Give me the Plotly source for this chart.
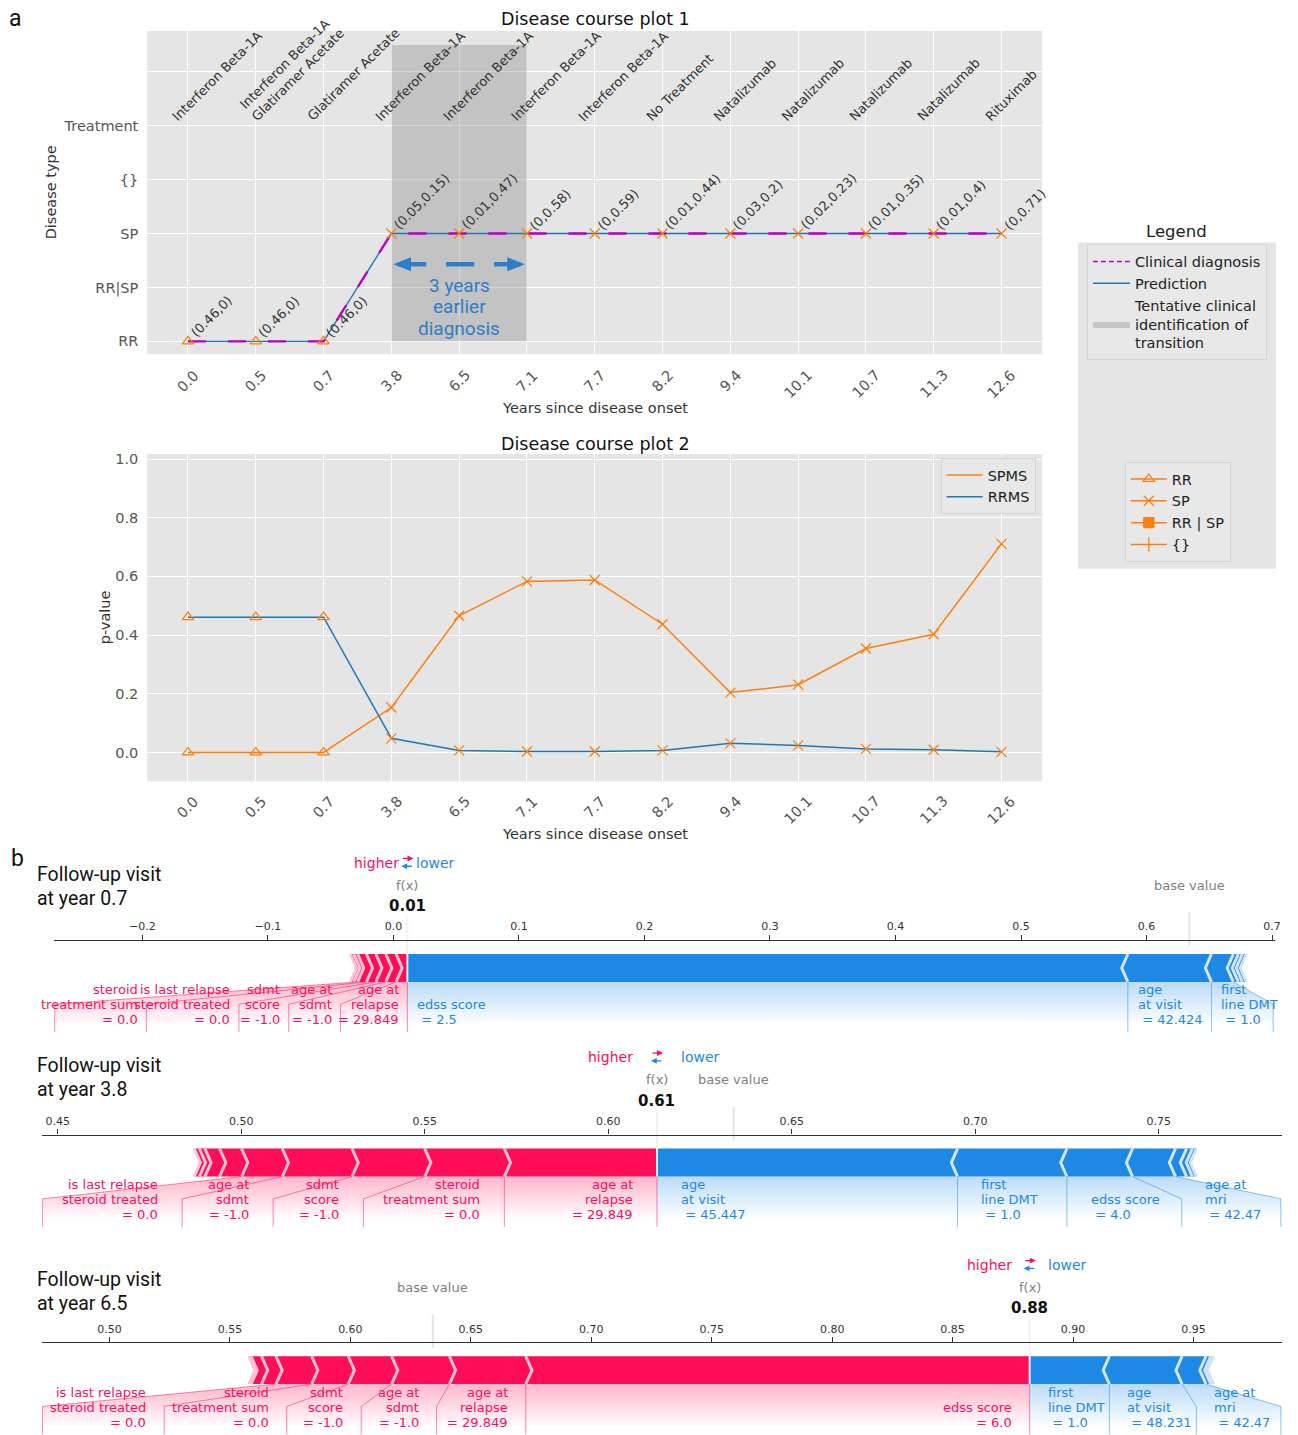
import plotly.graph_objects as go

FIG_W, FIG_H = 1298, 1435


def px_x(p):
    return p / FIG_W


def px_y(p):
    return 1 - p / FIG_H


# ---------------- disease course data ----------------
years = ["0.0", "0.5", "0.7", "3.8", "6.5", "7.1", "7.7", "8.2", "9.4", "10.1", "10.7", "11.3", "12.6"]
treatments = ["Interferon Beta-1A", "Interferon Beta-1A\nGlatiramer Acetate", "Glatiramer Acetate",
              "Interferon Beta-1A", "Interferon Beta-1A", "Interferon Beta-1A", "Interferon Beta-1A",
              "No Treatment", "Natalizumab", "Natalizumab", "Natalizumab", "Natalizumab", "Rituximab"]
predicted_type = ["RR", "RR", "RR", "SP", "SP", "SP", "SP", "SP", "SP", "SP", "SP", "SP", "SP"]
clinical_type = ["RR", "RR", "RR", "SP", "SP", "SP", "SP", "SP", "SP", "SP", "SP", "SP", "SP"]
p_rrms = [0.461, 0.461, 0.461, 0.048, 0.007, 0.003, 0.003, 0.007, 0.031, 0.024, 0.012, 0.009, 0.002]
p_spms = [0.0, 0.0, 0.0, 0.153, 0.466, 0.583, 0.588, 0.437, 0.204, 0.231, 0.354, 0.403, 0.711]
type_levels = ["RR", "RR|SP", "SP", "{}", "Treatment", ""]
legend_types = ["RR", "SP", "RR|SP", "{}"]
legend_type_names = ["RR", "SP", "RR | SP", "{}"]
transition_years = ["3.8", "7.1"]
earlier_text = ["3 years", "earlier", "diagnosis"]
p_ticks = [0.0, 0.2, 0.4, 0.6, 0.8, 1.0]

# ---------------- force plot data (SHAP contributions) ----------------
BASE_VALUE = 0.6342
visits = ["0.7", "3.8", "6.5"]

fp07_pos_names = ["age at\nrelapse", "age at\nsdmt", "sdmt\nscore", "is last relapse\nsteroid treated",
                  "steroid\ntreatment sum", "", ""]
fp07_pos_values = ["29.849", "-1.0", "-1.0", "0.0", "0.0", "", ""]
fp07_pos_shap = [0.0090, 0.0082, 0.0079, 0.0075, 0.0070, 0.0030, 0.0027]
fp07_neg_names = ["edss score", "age\nat visit", "first\nline DMT", "", "", ""]
fp07_neg_values = ["2.5", "42.424", "1.0", "", "", ""]
fp07_neg_shap = [0.5740, 0.0666, 0.0174, 0.0040, 0.0032, 0.0032]

fp38_pos_names = ["age at\nrelapse", "steroid\ntreatment sum", "sdmt\nscore", "age at\nsdmt",
                  "is last relapse\nsteroid treated", "", "", "", ""]
fp38_pos_values = ["29.849", "0.0", "-1.0", "-1.0", "0.0", "", "", "", ""]
fp38_pos_shap = [0.0416, 0.0217, 0.0198, 0.0190, 0.0111, 0.0060, 0.0040, 0.0015, 0.0014]
fp38_neg_names = ["age\nat visit", "first\nline DMT", "edss score", "age at\nmri", "", "", ""]
fp38_neg_values = ["45.447", "1.0", "4.0", "42.47", "", "", ""]
fp38_neg_shap = [0.0819, 0.0298, 0.0179, 0.0117, 0.0030, 0.0016, 0.0011]

fp65_pos_names = ["edss score", "age at\nrelapse", "age at\nsdmt", "sdmt\nscore", "steroid\ntreatment sum",
                  "is last relapse\nsteroid treated", "", "", ""]
fp65_pos_values = ["6.0", "29.849", "-1.0", "-1.0", "0.0", "0.0", "", "", ""]
fp65_pos_shap = [0.2092, 0.0317, 0.0240, 0.0180, 0.0152, 0.0148, 0.0060, 0.0043, 0.0010]
fp65_neg_names = ["first\nline DMT", "age\nat visit", "age at\nmri", "", ""]
fp65_neg_values = ["1.0", "48.231", "42.47", "", ""]
fp65_neg_shap = [0.0331, 0.0302, 0.0099, 0.0020, 0.0012]

force_data = [
    dict(pos_names=fp07_pos_names, pos_values=fp07_pos_values, pos_shap=fp07_pos_shap,
         neg_names=fp07_neg_names, neg_values=fp07_neg_values, neg_shap=fp07_neg_shap),
    dict(pos_names=fp38_pos_names, pos_values=fp38_pos_values, pos_shap=fp38_pos_shap,
         neg_names=fp38_neg_names, neg_values=fp38_neg_values, neg_shap=fp38_neg_shap),
    dict(pos_names=fp65_pos_names, pos_values=fp65_pos_values, pos_shap=fp65_pos_shap,
         neg_names=fp65_neg_names, neg_values=fp65_neg_values, neg_shap=fp65_neg_shap),
]

# placement of each force panel (pixel frame, axis window, label routing)
force_layout = [
    dict(bar_px=981, left_px=54, right_px=1281, xrange=(-0.2706, 0.7024),
         tick0=-0.2, tick1=0.7, dtick=0.1, fmt=".1f", pos_off=0.0052, neg_off=0.0063,
         pos_bends=[-0.0422, -0.0834, -0.1231, -0.1968, -0.2698], neg_bends=[None, None, 0.7009]),
    dict(bar_px=1176, left_px=42, right_px=1288, xrange=(0.44566, 0.78363),
         tick0=0.45, tick1=0.75, dtick=0.05, fmt=".2f", pos_off=0.0061, neg_off=0.0059,
         pos_bends=[None, 0.5333, 0.5087, 0.4839, 0.4458], neg_bends=[None, None, 0.7563, 0.7833]),
    dict(bar_px=1384, left_px=42, right_px=1288, xrange=(0.4719, 0.98678),
         tick0=0.50, tick1=0.95, dtick=0.05, fmt=".2f", pos_off=0.0066, neg_off=0.0066,
         pos_bends=[None, 0.6358, 0.6045, 0.5736, 0.5227, 0.4722], neg_bends=[None, 0.9512, 0.9863]),
]

# ---------------- styling ----------------
BLUE = "#1f77b4"
ORANGE = "#ff7f0e"
MAGENTA = "#bf00bf"
PANEL_BG = "#e5e5e5"
TICK_GREY = "#555555"
NOTE_BLUE = "#2f7cc8"
FONT = "DejaVu Sans"
RED_F, RED_LIGHT = "#FF0D57", "#FFC3D5"
BLUE_F, BLUE_LIGHT = "#1E88E5", "#D1E6FA"
UNIT_PX = 280.0

marker_symbols = {"RR": "triangle-up-open", "SP": "x-thin-open", "RR|SP": "square", "{}": "line-ns-open"}


def fmt(v):
    return f"{round(v, 2):g}"


def paper_text(txt, xp, yp, size, color, family=FONT, angle=0, xanchor="center"):
    return dict(x=px_x(xp), y=px_y(yp), xref="paper", yref="paper", text=txt, textangle=angle,
                xanchor=xanchor, yanchor="middle", showarrow=False,
                font=dict(family=family, size=size, color=color))


fig = go.Figure()
ann = []
shapes = []

level = [type_levels.index(t) for t in predicted_type]
clin_level = [type_levels.index(t) for t in clinical_type]
rr_level = type_levels.index("RR")
treat_level = type_levels.index("Treatment")
window_top = len(type_levels) - 0.5

# ---------------- disease course plot 1 ----------------
t0, t1 = transition_years
fig.add_trace(go.Scatter(
    x=[t0, t1, t1, t0], y=[rr_level, rr_level, window_top, window_top], fill="toself",
    fillcolor="rgba(128,128,128,0.34)", mode="lines", line=dict(width=0),
    name="Tentative clinical<br>identification of<br>transition", legend="legend", legendrank=3,
    hoverinfo="skip", xaxis="x", yaxis="y"))
fig.add_trace(go.Scatter(
    x=years, y=level, mode="lines", line=dict(color=BLUE, width=1.4), name="Prediction",
    legend="legend", legendrank=2, xaxis="x", yaxis="y"))
fig.add_trace(go.Scatter(
    x=years, y=clin_level, mode="lines", line=dict(color=MAGENTA, width=2.4, dash="18px,22px"),
    showlegend=False, xaxis="x", yaxis="y"))
# legend key for the clinical diagnosis line (short dashes)
fig.add_trace(go.Scatter(
    x=[None], y=[None], mode="lines", line=dict(color=MAGENTA, width=1.5, dash="5px,3px"),
    name="Clinical diagnosis", legend="legend", legendrank=1, xaxis="x", yaxis="y"))
for t in ["RR", "SP"]:
    xs = [y for y, k in zip(years, predicted_type) if k == t]
    fig.add_trace(go.Scatter(
        x=xs, y=[type_levels.index(t)] * len(xs), mode="markers",
        marker=dict(symbol=marker_symbols[t], size=10, color=ORANGE, line=dict(color=ORANGE, width=1.3)),
        showlegend=False, xaxis="x", yaxis="y"))
for t, nm in zip(legend_types, legend_type_names):
    fig.add_trace(go.Scatter(
        x=[None], y=[None], mode="lines+markers", line=dict(color=ORANGE, width=1.5),
        marker=dict(symbol=marker_symbols[t], size=10, color=ORANGE, line=dict(color=ORANGE, width=1.3)),
        name=nm, legend="legend2", xaxis="x", yaxis="y"))

# annotations on category axes are placed by category index
for i, yr in enumerate(years):
    ann.append(dict(x=i, y=level[i], xref="x", yref="y", text=f"({fmt(p_rrms[i])},{fmt(p_spms[i])})",
                    textangle=-45, xanchor="left", yanchor="bottom", xshift=-3, yshift=-2, showarrow=False,
                    font=dict(family=FONT, size=13, color="#333")))
    ann.append(dict(x=i, y=treat_level, xref="x", yref="y", text=treatments[i].replace("\n", "<br>"),
                    textangle=-45, xanchor="left", yanchor="bottom", xshift=-22, yshift=-1, align="left",
                    showarrow=False, font=dict(family=FONT, size=13, color="#333")))

# earlier-diagnosis arrow and note
ia, ib = years.index(t0), years.index(t1)
arrow_y, head_h, head_l = 1.43, 0.13, 0.26
shapes.append(dict(type="line", xref="x", yref="y", x0=ia + 0.1, x1=ib - 0.1, y0=arrow_y, y1=arrow_y,
                   line=dict(color=NOTE_BLUE, width=4.5, dash="28px,20px")))
shapes.append(dict(type="path", xref="x", yref="y", fillcolor=NOTE_BLUE, line=dict(width=0),
                   path=f"M {ia + 0.03},{arrow_y} L {ia + 0.03 + head_l},{arrow_y + head_h} "
                        f"L {ia + 0.03 + head_l},{arrow_y - head_h} Z"))
shapes.append(dict(type="path", xref="x", yref="y", fillcolor=NOTE_BLUE, line=dict(width=0),
                   path=f"M {ib - 0.03},{arrow_y} L {ib - 0.03 - head_l},{arrow_y + head_h} "
                        f"L {ib - 0.03 - head_l},{arrow_y - head_h} Z"))
mid = (ia + ib) / 2
for txt, yv in zip(earlier_text, [1.037, 0.648, 0.241]):
    ann.append(dict(x=mid, y=yv, xref="x", yref="y", text=txt, showarrow=False, xanchor="center",
                    yanchor="middle", font=dict(family="Roboto", size=19, color=NOTE_BLUE)))

# ---------------- disease course plot 2 ----------------
fig.add_trace(go.Scatter(x=years, y=p_spms, mode="lines", line=dict(color=ORANGE, width=1.5),
                         name="SPMS", legend="legend3", xaxis="x2", yaxis="y2"))
fig.add_trace(go.Scatter(x=years, y=p_rrms, mode="lines", line=dict(color=BLUE, width=1.5),
                         name="RRMS", legend="legend3", xaxis="x2", yaxis="y2"))
for series in (p_spms, p_rrms):
    fig.add_trace(go.Scatter(
        x=years, y=series, mode="markers", showlegend=False, xaxis="x2", yaxis="y2",
        marker=dict(symbol=[marker_symbols[t] for t in predicted_type], size=10, color=ORANGE,
                    line=dict(color=ORANGE, width=1.3))))

# rotated year labels under both course plots
for ypx in (362, 789):
    for i, yr in enumerate(years):
        ann.append(dict(x=i, xref="x", y=px_y(ypx), yref="paper", text=yr, textangle=-45,
                        xanchor="center", yanchor="top", showarrow=False,
                        font=dict(family=FONT, size=14.5, color=TICK_GREY)))

for txt, xp, yp, sz, col, ang in [
    ("Disease course plot 1", 598, 16, 17.5, "#111", 0),
    ("Disease course plot 2", 598, 442, 17.5, "#111", 0),
    ("Years since disease onset", 598, 406, 14.5, "#333", 0),
    ("Years since disease onset", 598, 833, 14.5, "#333", 0),
    ("Disease type", 51, 190, 14.5, "#333", -90),
    ("p-value", 105, 616, 14.5, "#333", -90),
    ("Legend", 1182, 229, 16.5, "#222", 0),
]:
    ann.append(paper_text(txt, xp, yp, sz, col, angle=ang))

ann.append(paper_text("a", 16, 16, 23, "#111", family="Roboto"))
ann.append(paper_text("b", 18, 857, 23, "#111", family="Roboto"))

# panel backgrounds
for ax in ("x", "x2"):
    yref = "y" if ax == "x" else "y2"
    shapes.append(dict(type="rect", xref=f"{ax} domain", yref=f"{yref} domain", x0=0, x1=1, y0=0, y1=1,
                       fillcolor=PANEL_BG, line=dict(width=0), layer="below"))
shapes.append(dict(type="rect", xref="paper", yref="paper", x0=px_x(1083), x1=px_x(1282),
                   y0=px_y(567), y1=px_y(240), fillcolor=PANEL_BG, line=dict(width=0), layer="below"))


# ---------------- force plots ----------------
def add_force(n, spec, lay):
    xa, ya = f"x{n}", f"y{n}"
    lo, hi = lay["xrange"]
    indent = (hi - lo) / 200
    bw = 0.1
    out = BASE_VALUE + sum(spec["pos_shap"]) - sum(spec["neg_shap"])

    shade_traces, bar_traces, sep_traces, line_traces = [], [], [], []
    for kind in ("pos", "neg"):
        positive = kind == "pos"
        dark, light = (RED_F, RED_LIGHT) if positive else (BLUE_F, BLUE_LIGHT)
        rgb = "255,13,87" if positive else "30,136,229"
        ind = indent if positive else -indent
        sign = 1 if positive else -1

        # chevron bars
        bx, by, sx, sy = [], [], [], []
        pre = out
        for i, s in enumerate(spec[kind + "_shap"]):
            if positive:
                left, right = pre - s, pre
                pre = left
                sep = left
            else:
                left, right = pre, pre + s
                pre = right
                sep = right
            if i == 0:
                if positive:
                    pts = [(left, 0), (right, 0), (right, bw), (left, bw), (left + ind, bw / 2)]
                else:
                    pts = [(right, 0), (left, 0), (left, bw), (right, bw), (right + ind, bw / 2)]
            else:
                pts = [(left, 0), (right, 0), (right + ind, bw / 2), (right, bw), (left, bw),
                       (left + ind, bw / 2)]
            for a, b in pts:
                bx.append(a)
                by.append(b)
            bx.append(None)
            by.append(None)
            sx += [sep, sep + ind, sep, None]
            sy += [0, bw / 2, bw, None]
        bar_traces.append(go.Scatter(x=bx, y=by, mode="lines", fill="toself", fillcolor=dark,
                                     line=dict(width=0, color=dark), hoverinfo="skip", showlegend=False,
                                     xaxis=xa, yaxis=ya))
        sep_traces.append(go.Scatter(x=sx, y=sy, mode="lines", line=dict(color=light, width=3),
                                     hoverinfo="skip", showlegend=False, xaxis=xa, yaxis=ya))

        # labels and connectors
        off = lay[kind + "_off"]
        bends = lay[kind + "_bends"]
        lx, ly = [], []
        if positive:
            lx += [out, out, None]
            ly += [0, -0.18, None]
        start, pre, box_end = out, out, out
        for i, name in enumerate(spec[kind + "_names"]):
            if not name:
                break
            val = pre - sign * spec[kind + "_shap"][i]
            anchor = start - sign * off
            rows = name.split("\n") + [("= " if positive else "\u00a0= ") + spec[kind + "_values"][i]]
            for j, row in enumerate(reversed(rows)):
                ann.append(dict(x=anchor, y=-0.1357 + j * 15 / UNIT_PX, xref=xa, yref=ya, text=row,
                                xanchor="right" if positive else "left", yanchor="middle", showarrow=False,
                                font=dict(family=FONT, size=13, color=dark)))
            bend = bends[i]
            if bend is None:
                lx += [val, val, None]
                ly += [0, -0.18, None]
                start = box_end = val
            else:
                lx += [val, bend, bend, None]
                ly += [0, -0.08, -0.18, None]
                start = box_end = bend
            pre = val
        line_traces.append(go.Scatter(x=lx, y=ly, mode="lines", line=dict(color=f"rgba({rgb},0.5)", width=1),
                                      hoverinfo="skip", showlegend=False, xaxis=xa, yaxis=ya))
        shade_traces.append(go.Scatter(
            x=[out, pre, box_end, box_end, out, out], y=[0, 0, -0.08, -0.2, -0.2, 0], mode="lines",
            fill="toself", line=dict(width=0),
            fillgradient=dict(type="vertical", start=-0.155, stop=0,
                              colorscale=[[0, f"rgba({rgb},0)"], [1, f"rgba({rgb},0.3)"]]),
            hoverinfo="skip", showlegend=False, xaxis=xa, yaxis=ya))

    for tr in shade_traces + bar_traces + sep_traces + line_traces:
        fig.add_trace(tr)
    fig.add_trace(go.Scatter(x=[out, out], y=[0, 0.24], mode="lines", line=dict(color="#F2F2F2", width=2),
                             hoverinfo="skip", showlegend=False, xaxis=xa, yaxis=ya))
    fig.add_trace(go.Scatter(x=[BASE_VALUE, BASE_VALUE], y=[0.13, 0.25], mode="lines",
                             line=dict(color="#E4E4E4", width=2), hoverinfo="skip", showlegend=False,
                             xaxis=xa, yaxis=ya))

    hl = lay["pos_off"]
    ann.extend([
        dict(x=out - hl, y=0.427, xref=xa, yref=ya, text="higher", xanchor="right", yanchor="middle",
             showarrow=False, font=dict(family=FONT, size=14, color=RED_F)),
        dict(x=out + hl, y=0.427, xref=xa, yref=ya, text="lower", xanchor="left", yanchor="middle",
             showarrow=False, font=dict(family=FONT, size=14, color=BLUE_F)),
        # stacked direction arrows (red to the right, blue to the left)
        dict(x=out, y=0.442, xref=xa, yref=ya, text="", showarrow=True, xshift=6, ax=-12, ay=0,
             arrowhead=2, arrowsize=0.9, arrowwidth=1.3, arrowcolor=RED_F, standoff=0, startstandoff=0),
        dict(x=out, y=0.414, xref=xa, yref=ya, text="", showarrow=True, xshift=-6, ax=12, ay=0,
             arrowhead=2, arrowsize=0.9, arrowwidth=1.3, arrowcolor=BLUE_F, standoff=0, startstandoff=0),
        dict(x=out, y=0.346, xref=xa, yref=ya, text="f(x)", showarrow=False, xanchor="center",
             yanchor="middle", font=dict(family=FONT, size=13, color="#808080")),
        dict(x=BASE_VALUE, y=0.346, xref=xa, yref=ya, text="base value", showarrow=False, xanchor="center",
             yanchor="middle", font=dict(family=FONT, size=13, color="#808080")),
        dict(x=out, y=0.271, xref=xa, yref=ya, text=f"<b>{out:.2f}</b>", showarrow=False, bgcolor="white",
             xanchor="center", yanchor="middle", font=dict(family=FONT, size=15, color="#111")),
    ])


title_px = [873, 1065, 1279]
for k, (spec, lay) in enumerate(zip(force_data, force_layout)):
    add_force(k + 3, spec, lay)
    for j, txt in enumerate(["Follow-up visit", f"at year {visits[k]}"]):
        ann.append(paper_text(txt, 35, title_px[k] + 24 * j, 19.5, "#111", family="Roboto", xanchor="left"))

# ---------------- axes ----------------
course_x = dict(type="category", categoryorder="array", categoryarray=years, range=[-0.6, 12.6],
                domain=[px_x(148), px_x(1047)], showgrid=True, gridcolor="white", gridwidth=1,
                showticklabels=False, ticks="", zeroline=False, showline=False)
layout_axes = dict(
    xaxis=dict(course_x, anchor="y"),
    yaxis=dict(domain=[px_y(352), px_y(28)], range=[-0.24, 5.76], tickmode="array",
               tickvals=list(range(len(type_levels))), ticktext=type_levels, showgrid=True,
               gridcolor="white", gridwidth=1, zeroline=False, ticks="", ticklabelstandoff=8,
               tickfont=dict(family=FONT, size=14.5, color=TICK_GREY), anchor="x"),
    xaxis2=dict(course_x, anchor="y2"),
    yaxis2=dict(domain=[px_y(780), px_y(452)], range=[-0.0986, 1.017], tickmode="array", tickvals=p_ticks,
                tickformat=".1f", showgrid=True, gridcolor="white", gridwidth=1, zeroline=False, ticks="",
                ticklabelstandoff=8, tickfont=dict(family=FONT, size=14.5, color=TICK_GREY), anchor="x2"),
)
for k, lay in enumerate(force_layout):
    n = k + 3
    lo, hi = lay["xrange"]
    nt = int(round((lay["tick1"] - lay["tick0"]) / lay["dtick"])) + 1
    tv = [round(lay["tick0"] + lay["dtick"] * i, 3) for i in range(nt)]
    bar = lay["bar_px"]
    axis_px = bar - 0.15 * UNIT_PX
    top_px = bar - 0.45 * UNIT_PX
    bot_px = min(bar + 0.2 * UNIT_PX, FIG_H)
    layout_axes[f"xaxis{n}"] = dict(
        domain=[px_x(lay["left_px"]), px_x(lay["right_px"])], range=[lo, hi], anchor="free",
        position=px_y(axis_px), side="top", tickmode="array", tickvals=tv, tickformat=lay["fmt"],
        ticks="outside", ticklen=5, tickwidth=1, tickcolor="#333", showline=True, linecolor="#333",
        linewidth=1.3, showgrid=False, zeroline=False, tickfont=dict(family=FONT, size=11, color="#333"))
    layout_axes[f"yaxis{n}"] = dict(
        domain=[px_y(bot_px), px_y(top_px)], range=[-(bot_px - bar) / UNIT_PX, 0.45], visible=False,
        anchor=f"x{n}")

legend_font = dict(family=FONT, size=14.5, color="#222")
legend_common = dict(xanchor="left", yanchor="top", bgcolor="#e8e8e8", bordercolor="#d4d4d4", borderwidth=1,
                     font=legend_font, tracegroupgap=0)
fig.update_layout(
    width=FIG_W, height=FIG_H, margin=dict(l=0, r=0, t=0, b=0),
    paper_bgcolor="white", plot_bgcolor="white",
    annotations=ann, shapes=shapes,
    legend=dict(legend_common, x=px_x(1092), y=px_y(242), itemwidth=37),
    legend2=dict(legend_common, x=px_x(1130), y=px_y(460), itemwidth=36),
    legend3=dict(legend_common, x=px_x(945), y=px_y(456), itemwidth=36),
    **layout_axes,
)

fig.write_html("out.html")
